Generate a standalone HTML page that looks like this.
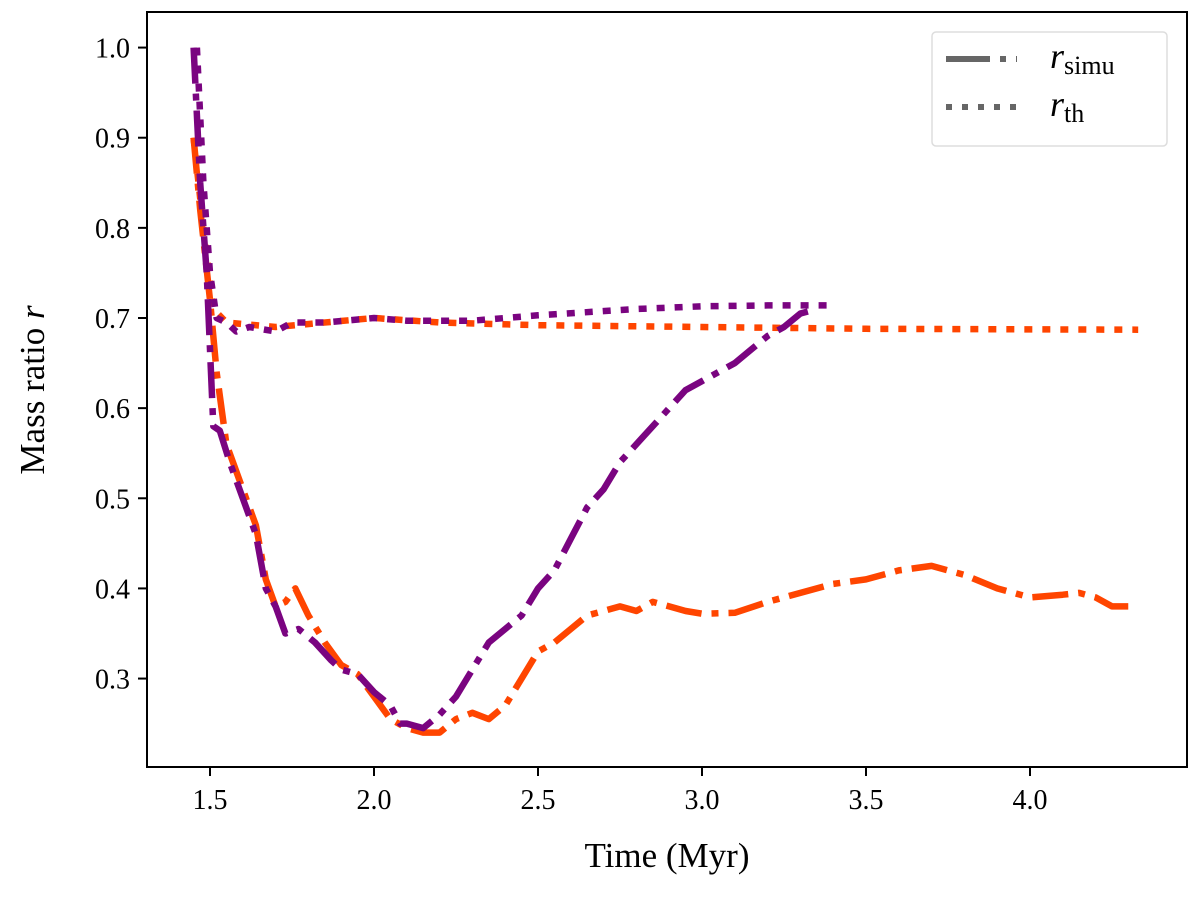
<!DOCTYPE html>
<html><head><meta charset="utf-8"><style>
body{margin:0;background:#fff}
svg text{font-family:"Liberation Serif","DejaVu Serif",serif;fill:#000}
</style></head><body>
<svg id="chart" width="1200" height="899" xmlns="http://www.w3.org/2000/svg">
<g id="marks"></g>
<rect x="147" y="12" width="1040" height="755" fill="none" stroke="#000" stroke-width="2"/>
<g id="axes"></g>
<text x="667" y="867" font-size="35" text-anchor="middle">Time (Myr)</text>
<text transform="translate(44,390) rotate(-90)" font-size="35" text-anchor="middle">Mass ratio <tspan font-style="italic">r</tspan></text>
<g>
<rect x="932" y="32" width="235" height="114" rx="4" fill="#fff" stroke="#ddd" stroke-width="1.5"/>
<line x1="946" y1="59" x2="1022" y2="59" stroke="#666" stroke-width="6" stroke-dasharray="44 10 6 10 1 100"/>
<line x1="946" y1="107" x2="1022" y2="107" stroke="#666" stroke-width="6" stroke-dasharray="6 10"/>
<text x="1050" y="68" font-size="36" font-style="italic">r<tspan font-style="normal" font-size="26" dy="6">simu</tspan></text>
<text x="1050" y="116" font-size="36" font-style="italic">r<tspan font-style="normal" font-size="26" dy="6">th</tspan></text>
</g>
</svg>
<script>
const xTicks=[1.5,2.0,2.5,3.0,3.5,4.0];
const yTicks=[0.3,0.4,0.5,0.6,0.7,0.8,0.9,1.0];
const orangeSimuT=[1.45,1.47,1.5,1.52,1.55,1.6,1.64,1.67,1.7,1.73,1.76,1.8,1.85,1.9,1.95,2.0,2.05,2.1,2.15,2.2,2.25,2.3,2.35,2.4,2.45,2.5,2.55,2.6,2.65,2.7,2.75,2.8,2.85,2.9,2.95,3.0,3.1,3.2,3.3,3.4,3.5,3.6,3.7,3.8,3.9,4.0,4.1,4.15,4.2,4.25,4.32];
const orangeSimuR=[0.9,0.82,0.72,0.64,0.56,0.51,0.47,0.41,0.38,0.385,0.40,0.37,0.34,0.315,0.305,0.28,0.255,0.245,0.24,0.24,0.255,0.262,0.255,0.27,0.30,0.33,0.34,0.355,0.37,0.375,0.38,0.375,0.385,0.38,0.375,0.372,0.373,0.385,0.395,0.405,0.41,0.42,0.425,0.415,0.40,0.39,0.393,0.395,0.39,0.38,0.38];
const purpleSimuT=[1.45,1.47,1.49,1.51,1.53,1.56,1.6,1.64,1.67,1.7,1.73,1.77,1.82,1.87,1.9,1.95,2.0,2.05,2.08,2.1,2.15,2.2,2.25,2.3,2.35,2.4,2.45,2.5,2.55,2.6,2.65,2.7,2.75,2.8,2.85,2.9,2.95,3.0,3.05,3.1,3.15,3.2,3.25,3.3,3.35];
const purpleSimuR=[1.0,0.85,0.75,0.58,0.575,0.54,0.5,0.46,0.40,0.38,0.35,0.355,0.34,0.32,0.31,0.305,0.285,0.27,0.25,0.25,0.245,0.26,0.28,0.31,0.34,0.355,0.37,0.40,0.42,0.455,0.49,0.51,0.54,0.56,0.58,0.60,0.62,0.63,0.64,0.65,0.665,0.68,0.69,0.705,0.71];
const orangeThT=[1.45,1.48,1.51,1.55,1.7,2.0,2.2,2.5,3.0,3.5,4.33];
const orangeThR=[0.9,0.8,0.71,0.695,0.69,0.70,0.695,0.692,0.69,0.688,0.687];
const purpleThT=[1.46,1.48,1.5,1.52,1.55,1.58,1.62,1.7,1.75,1.85,2.0,2.1,2.3,2.5,2.8,3.0,3.2,3.4];
const purpleThR=[1.0,0.85,0.75,0.70,0.695,0.685,0.69,0.685,0.695,0.695,0.70,0.697,0.697,0.703,0.71,0.713,0.714,0.714];
const NS="http://www.w3.org/2000/svg";
const xs=v=>210+(v-1.5)*328;
const ys=v=>318-(v-0.7)*901.4;
const marks=document.getElementById('marks'),axes=document.getElementById('axes');
function line(T,R,color,dash,name){
  const p=document.createElementNS(NS,'path');
  p.setAttribute('d',T.map((t,i)=>(i?'L':'M')+xs(t).toFixed(1)+','+ys(R[i]).toFixed(1)).join(''));
  p.setAttribute('fill','none');p.setAttribute('stroke',color);p.setAttribute('stroke-width','6.5');
  p.setAttribute('stroke-dasharray',dash);p.setAttribute('stroke-linejoin','round');
  
  
  marks.appendChild(p);
}
line(orangeThT,orangeThR,'#ff4500','8 10','orange-r-th');
line(orangeSimuT,orangeSimuR,'#ff4500','36 10 7 10','orange-r-simu');
line(purpleThT,purpleThR,'#7a0480','8 10','purple-r-th');
line(purpleSimuT,purpleSimuR,'#7a0480','36 10 7 10','purple-r-simu');
xTicks.forEach(v=>{
  const l=document.createElementNS(NS,'line');
  l.setAttribute('x1',xs(v));l.setAttribute('x2',xs(v));l.setAttribute('y1',767);l.setAttribute('y2',776);l.setAttribute('stroke','#000');l.setAttribute('stroke-width','2');
  
  
  axes.appendChild(l);
  const t=document.createElementNS(NS,'text');
  t.setAttribute('x',xs(v));t.setAttribute('y',809);t.setAttribute('font-size','28');t.setAttribute('text-anchor','middle');t.textContent=v.toFixed(1);
  
  
  axes.appendChild(t);
});
yTicks.forEach(v=>{
  const l=document.createElementNS(NS,'line');
  l.setAttribute('x1',138);l.setAttribute('x2',147);l.setAttribute('y1',ys(v));l.setAttribute('y2',ys(v));l.setAttribute('stroke','#000');l.setAttribute('stroke-width','2');
  
  
  axes.appendChild(l);
  const t=document.createElementNS(NS,'text');
  t.setAttribute('x',130);t.setAttribute('y',ys(v)+10);t.setAttribute('font-size','28');t.setAttribute('text-anchor','end');t.textContent=v.toFixed(1);
  
  
  axes.appendChild(t);
});
</script>
</body></html>
